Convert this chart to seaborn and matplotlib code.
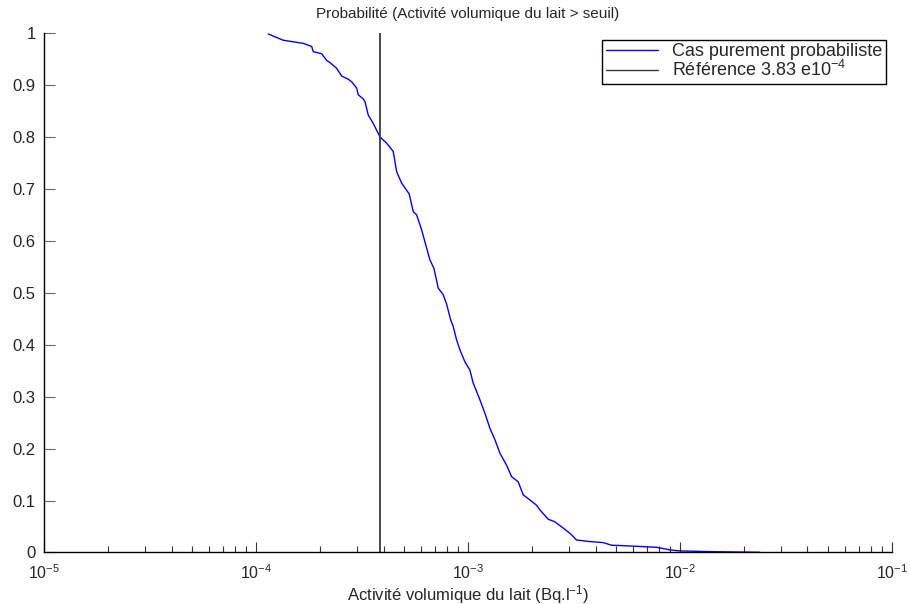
import numpy as np
import pandas as pd
import seaborn as sns
import matplotlib
matplotlib.use("Agg")
import matplotlib.pyplot as plt
from matplotlib.ticker import LogLocator, NullFormatter

# Courbe de probabilité de dépassement
activite = [1.143e-4, 1.345e-4, 1.671e-4, 1.832e-4, 1.863e-4, 2.042e-4, 2.156e-4,
            2.234e-4, 2.403e-4, 2.537e-4, 2.725e-4, 2.828e-4, 2.985e-4, 3.038e-4,
            3.207e-4, 3.268e-4, 3.386e-4, 3.575e-4, 3.845e-4, 4.133e-4, 4.442e-4,
            4.610e-4, 4.867e-4, 5.285e-4, 5.521e-4, 5.728e-4, 6.048e-4, 6.386e-4,
            6.619e-4, 6.912e-4, 7.243e-4, 7.647e-4, 7.934e-4, 8.287e-4, 8.525e-4,
            8.845e-4, 9.169e-4, 9.678e-4, 1.022e-3, 1.059e-3, 1.139e-3, 1.203e-3,
            1.270e-3, 1.341e-3, 1.416e-3, 1.522e-3, 1.607e-3, 1.727e-3, 1.823e-3,
            1.961e-3, 2.109e-3, 2.185e-3, 2.392e-3, 2.572e-3, 2.815e-3, 3.028e-3,
            3.256e-3, 3.763e-3, 4.346e-3, 4.763e-3, 5.809e-3, 7.766e-3, 8.970e-3,
            1.0e-2, 1.436e-2, 2.384e-2]
probabilite = [0.998, 0.986, 0.980, 0.974, 0.964, 0.960, 0.947,
               0.943, 0.932, 0.917, 0.911, 0.906, 0.894, 0.881,
               0.873, 0.868, 0.842, 0.826, 0.800, 0.788, 0.772,
               0.733, 0.711, 0.690, 0.656, 0.650, 0.621, 0.586,
               0.563, 0.547, 0.509, 0.496, 0.478, 0.448, 0.435,
               0.409, 0.390, 0.367, 0.351, 0.326, 0.294, 0.268,
               0.239, 0.217, 0.191, 0.168, 0.146, 0.136, 0.111,
               0.101, 0.091, 0.082, 0.064, 0.059, 0.047, 0.037,
               0.024, 0.021, 0.019, 0.014, 0.0125, 0.010, 0.005,
               0.003, 0.0015, 0.0004]
seuil_ref = 3.83e-4
y_labels = ["0", "0.1", "0.2", "0.3", "0.4", "0.5", "0.6", "0.7", "0.8", "0.9", "1"]

sns.set_style("ticks")
plt.rcParams['font.family'] = ['Liberation Sans', 'DejaVu Sans']
plt.rcParams['mathtext.fontset'] = 'custom'
plt.rcParams['mathtext.rm'] = 'Liberation Sans'
plt.rcParams['mathtext.it'] = 'Liberation Sans'
plt.rcParams['xtick.direction'] = 'in'
plt.rcParams['ytick.direction'] = 'in'

fig = plt.figure(figsize=(9.1, 6.04), dpi=100)
ax = fig.add_axes([0.0484, 0.0853, 0.9316, 0.8601])

df = pd.DataFrame({"x": activite, "p": probabilite})
sns.lineplot(data=df, x="x", y="p", ax=ax, color="#0000ff", linewidth=1.0,
             estimator=None, sort=False, label="Cas purement probabiliste")
ax.axvline(seuil_ref, color="#3a3a3a", linewidth=1.3,
           label=r"Référence 3.83 e10$^{-4}$")

ax.set_xscale("log")
ax.set_xlim(1e-5, 1e-1)
ax.set_ylim(0, 1)
ax.set_yticks(np.linspace(0, 1, 11))
ax.set_yticklabels(y_labels)
ax.xaxis.set_major_locator(LogLocator(base=10, numticks=10))
ax.xaxis.set_minor_locator(LogLocator(base=10, subs=np.arange(2, 10), numticks=50))
ax.xaxis.set_minor_formatter(NullFormatter())

ax.tick_params(axis="y", which="major", direction="in", length=8, width=0.8,
               labelsize=12, color="#666666", pad=6)
ax.tick_params(axis="x", which="major", direction="in", length=7, width=0.8,
               labelsize=11.5, color="#333333", pad=7.5)
ax.tick_params(axis="x", which="minor", direction="in", length=4, width=0.8,
               color="#333333")
sns.despine(ax=ax, top=True, right=True)
for s in ("left", "bottom"):
    ax.spines[s].set_linewidth(1.0)
    ax.spines[s].set_color("black")

ax.set_title("Probabilité (Activité volumique du lait > seuil)", fontsize=11, pad=11)
ax.set_xlabel(r"Activité volumique du lait (Bq.l$^{-1}$)", fontsize=12)
ax.xaxis.set_label_coords(0.5, -0.058)
ax.set_ylabel("")

leg = ax.legend(loc="upper right", bbox_to_anchor=(0.9935, 0.987), fontsize=13,
                frameon=True, fancybox=False, edgecolor="black", framealpha=1,
                handlelength=2.9, borderpad=0.2, labelspacing=0.0,
                handletextpad=0.8, borderaxespad=0.0)
leg.get_frame().set_linewidth(1.0)
for h in leg.get_lines():
    h.set_linewidth(1.0)

fig.savefig("out.png", dpi=100)
